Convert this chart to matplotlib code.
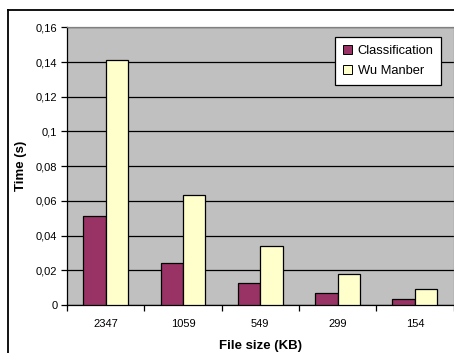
import matplotlib
matplotlib.use("Agg")
import matplotlib.pyplot as plt
from matplotlib.lines import Line2D
import numpy as np

plt.rcParams['font.family'] = ['Liberation Sans', 'DejaVu Sans']

# Data
file_sizes = ["2347", "1059", "549", "299", "154"]
classification = [0.0513, 0.0240, 0.0125, 0.0071, 0.0035]
wu_manber = [0.1414, 0.0632, 0.0338, 0.0179, 0.0090]
y_ticks = [0, 0.02, 0.04, 0.06, 0.08, 0.1, 0.12, 0.14, 0.16]
y_tick_labels = ["0", "0,02", "0,04", "0,06", "0,08", "0,1", "0,12", "0,14", "0,16"]

W, H = 454, 353
fig = plt.figure(figsize=(W / 100, H / 100), dpi=100)
fig.patch.set_facecolor("white")

# Outer chart frame: left and top edges
fx, fy = 7.5 / W, 1 - 9.5 / H
fig.add_artist(Line2D([fx, fx], [0, fy], transform=fig.transFigure,
                      color="black", linewidth=1.3))
fig.add_artist(Line2D([fx, 1], [fy, fy], transform=fig.transFigure,
                      color="black", linewidth=1.3))

ax = fig.add_axes([67 / W, 1 - 305 / H, 386.5 / W, (305 - 27.3) / H])
ax.set_facecolor("#C0C0C0")

x = np.arange(len(file_sizes))
w = 0.29
ax.bar(x - w / 2, classification, width=w, color="#993366",
       edgecolor="black", linewidth=0.9, label="Classification", zorder=3)
ax.bar(x + w / 2, wu_manber, width=w, color="#FFFFCC",
       edgecolor="black", linewidth=0.9, label="Wu Manber", zorder=3)

ax.set_xlim(-0.5, len(file_sizes) - 0.5)
ax.set_ylim(0, 0.16)

ax.set_yticks(y_ticks)
ax.set_yticklabels(y_tick_labels, fontsize=8)
ax.yaxis.grid(True, color="black", linewidth=0.9, zorder=1)
ax.set_axisbelow(True)

# Category ticks between groups, labels centered under groups
ax.set_xticks(np.arange(-0.5, len(file_sizes) + 0.5, 1.0))
ax.set_xticklabels([])
ax.set_xticks(x, minor=True)
ax.set_xticklabels(file_sizes, minor=True, fontsize=8)
ax.tick_params(axis="x", which="major", direction="out", length=4, width=0.9)
ax.tick_params(axis="x", which="minor", length=0, pad=10)
ax.tick_params(axis="y", direction="out", length=4, width=0.9, pad=3)

for s in ["left", "bottom"]:
    ax.spines[s].set_color("black")
    ax.spines[s].set_linewidth(0.9)
for s in ["top", "right"]:
    ax.spines[s].set_color("#808080")
    ax.spines[s].set_linewidth(0.9)

ax.set_xlabel("File size (KB)", fontsize=9.5, fontweight="bold", labelpad=8)
ax.set_ylabel("Time (s)", fontsize=9.5, fontweight="bold", labelpad=6)

leg = ax.legend(loc="upper right", bbox_to_anchor=(0.968, 0.965),
                fontsize=9.3, frameon=True, fancybox=False,
                edgecolor="black", facecolor="white", framealpha=1,
                handlelength=0.75, handleheight=0.75, handletextpad=0.4,
                borderpad=0.6, labelspacing=0.6, borderaxespad=0)
leg.get_frame().set_linewidth(0.9)
for h in leg.legend_handles:
    h.set_edgecolor("black")
    h.set_linewidth(0.7)

fig.savefig("out.png", dpi=100)
